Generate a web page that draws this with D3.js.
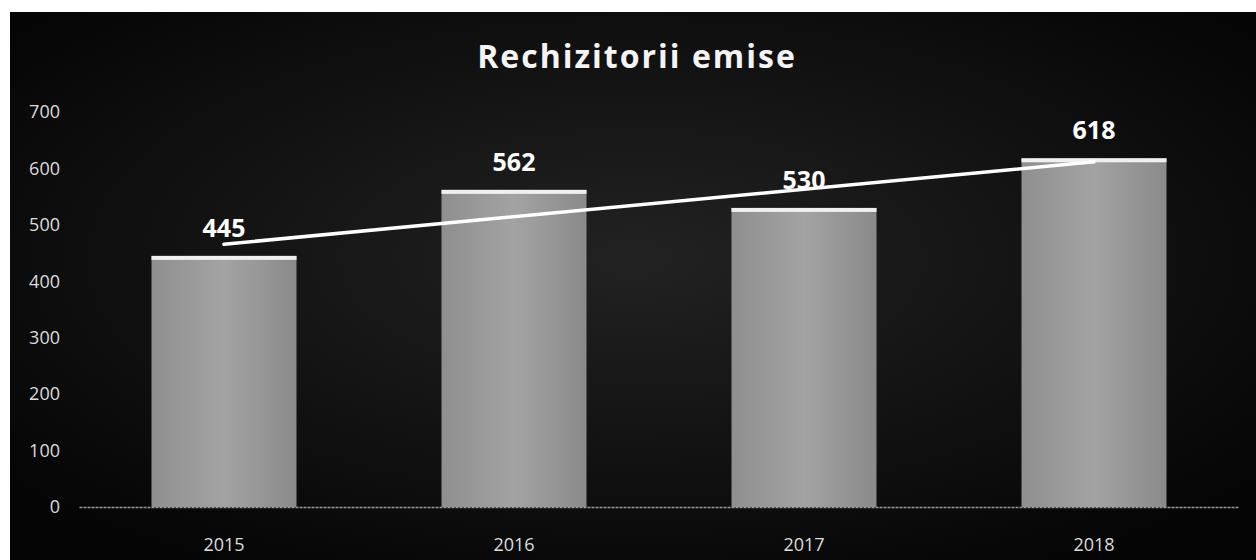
<!DOCTYPE html>
<html>
<head>
<meta charset="utf-8">
<script src="https://cdn.jsdelivr.net/npm/d3@7"></script>
<style>
  html, body { margin: 0; padding: 0; background: #fff; }
  svg { display: block; }
</style>
</head>
<body>
<div id="canvas"></div>
<script>
"use strict"

/* Chart data */
let years = ["2015", "2016", "2017", "2018"];
let counts = [445, 562, 530, 618];
let yTicks = [0, 100, 200, 300, 400, 500, 600, 700];
let chartTitle = "Rechizitorii emise";

/* Drawing config */
let svgWidth = 1256;
let svgHeight = 560;
let plotLeft = 79;
let plotRight = 1239;
let plotTop = 112;
let plotBottom = 507;

let svg = d3.select("#canvas")
    .append("svg")
    .attr("width", svgWidth)
    .attr("height", svgHeight);

let defs = svg.append("defs");

/* dark background with slightly lighter middle */
let bg = defs.append("radialGradient")
    .attr("id", "bgGrad")
    .attr("cx", "50%").attr("cy", "45%").attr("r", "65%");
bg.append("stop").attr("offset", "0%").attr("stop-color", "#222222");
bg.append("stop").attr("offset", "100%").attr("stop-color", "#050505");

let barGrad = defs.append("linearGradient")
    .attr("id", "barGrad")
    .attr("x1", 0).attr("y1", 0).attr("x2", 1).attr("y2", 0);
barGrad.append("stop").attr("offset", "0%").attr("stop-color", "#8f8f8f");
barGrad.append("stop").attr("offset", "50%").attr("stop-color", "#a3a3a3");
barGrad.append("stop").attr("offset", "100%").attr("stop-color", "#8a8a8a");

svg.append("rect")
    .attr("x", 10)
    .attr("y", 12)
    .attr("width", svgWidth - 10)
    .attr("height", svgHeight - 12)
    .attr("fill", "url(#bgGrad)");

/* Scales */
let xScale = d3.scaleBand()
    .domain(years)
    .range([plotLeft, plotRight])
    .paddingInner(0.5)
    .paddingOuter(0.25);

let yScale = d3.scaleLinear()
    .domain([0, 700])
    .range([plotBottom, plotTop]);

/* Title */
svg.append("text")
    .attr("x", 637)
    .attr("y", 68)
    .attr("text-anchor", "middle")
    .attr("font-family", "Open Sans")
    .attr("font-weight", "bold")
    .attr("font-size", 32)
    .attr("letter-spacing", 2)
    .attr("fill", "#f4f4f4")
    .text(chartTitle);

/* Y axis labels (no line, no ticks) */
let yAxis = d3.axisLeft(yScale)
    .tickValues(yTicks)
    .tickSize(0)
    .tickPadding(0);

let yAxisG = svg.append("g")
    .attr("transform", "translate(60,0)")
    .call(yAxis);
yAxisG.select(".domain").remove();
yAxisG.selectAll("text")
    .attr("font-family", "Open Sans")
    .attr("font-size", 18)
    .attr("fill", "#dcdcdc");

/* Bars */
let barData = years.map(function (y, i) { return { year: y, value: counts[i] }; });

svg.selectAll("rect.bar")
    .data(barData)
    .join("rect")
    .attr("class", "bar")
    .attr("x", function (d) { return xScale(d.year); })
    .attr("y", function (d) { return yScale(d.value); })
    .attr("width", xScale.bandwidth())
    .attr("height", function (d) { return plotBottom - yScale(d.value); })
    .attr("fill", "url(#barGrad)");

/* bright bevel on bar tops */
svg.selectAll("rect.bartop")
    .data(barData)
    .join("rect")
    .attr("class", "bartop")
    .attr("x", function (d) { return xScale(d.year); })
    .attr("y", function (d) { return yScale(d.value); })
    .attr("width", xScale.bandwidth())
    .attr("height", 4)
    .attr("fill", "#f0f0f0");

/* X axis */
let xAxis = d3.axisBottom(xScale)
    .tickSize(0)
    .tickPadding(0);

let xAxisG = svg.append("g")
    .attr("transform", "translate(0," + plotBottom + ")")
    .call(xAxis);
xAxisG.select(".domain")
    .attr("stroke", "#9a9a9a")
    .attr("stroke-width", 1.5)
    .attr("stroke-dasharray", "3,1");
xAxisG.selectAll("text")
    .attr("dy", 0)
    .attr("y", 44)
    .attr("font-family", "Open Sans")
    .attr("font-size", 18)
    .attr("fill", "#dcdcdc");

/* Linear trend line (least squares on the values) */
let n = counts.length;
let meanX = d3.mean(d3.range(n));
let meanY = d3.mean(counts);
let sxy = d3.sum(counts, function (v, i) { return (i - meanX) * (v - meanY); });
let sxx = d3.sum(d3.range(n), function (i) { return (i - meanX) * (i - meanX); });
let slope = sxy / sxx;
let intercept = meanY - slope * meanX;

let trend = [0, n - 1].map(function (i) {
    return { year: years[i], value: intercept + slope * i };
});

let line = d3.line()
    .x(function (d) { return xScale(d.year) + xScale.bandwidth() / 2; })
    .y(function (d) { return yScale(d.value); });

svg.append("path")
    .datum(trend)
    .attr("d", line)
    .attr("fill", "none")
    .attr("stroke", "#ffffff")
    .attr("stroke-width", 3.5)
    .attr("stroke-linecap", "round");

/* Data labels */
svg.selectAll("text.value")
    .data(barData)
    .join("text")
    .attr("class", "value")
    .attr("x", function (d) { return xScale(d.year) + xScale.bandwidth() / 2; })
    .attr("y", function (d) { return yScale(d.value) - 19; })
    .attr("text-anchor", "middle")
    .attr("font-family", "Open Sans")
    .attr("font-weight", "bold")
    .attr("font-size", 25)
    .attr("fill", "#ffffff")
    .text(function (d) { return d.value; });
</script>
</body>
</html>
